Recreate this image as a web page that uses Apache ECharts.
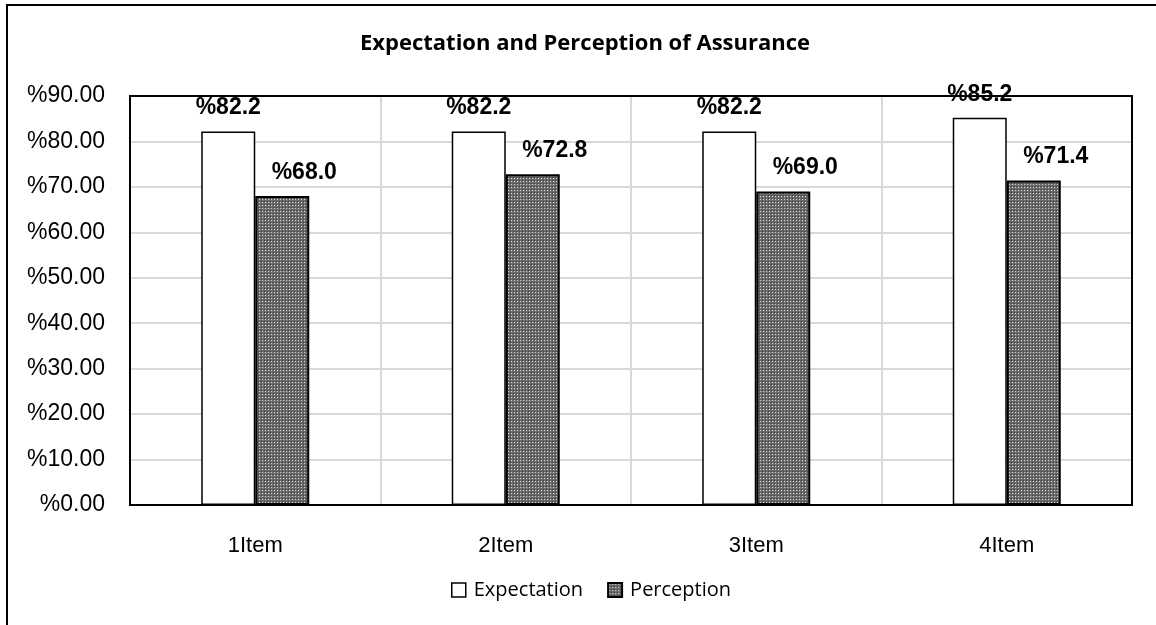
<!DOCTYPE html>
<html><head><meta charset="utf-8">
<script src="https://cdn.jsdelivr.net/npm/echarts@6/dist/echarts.min.js"></script>
<style>html,body{margin:0;padding:0;background:#fff}#c{width:1156px;height:625px}</style>
</head><body><div id="c"></div>
<script>
var categories = ['1Item', '2Item', '3Item', '4Item'];
var expectation = [82.2, 82.2, 82.2, 85.2];
var perception = [68.0, 72.8, 69.0, 71.4];
var yTicks = [0, 10, 20, 30, 40, 50, 60, 70, 80, 90];

var pc = document.createElement('canvas');
pc.width = 3; pc.height = 3;
var g = pc.getContext('2d');
g.fillStyle = '#6a6a6a'; g.fillRect(0, 0, 3, 3);
g.fillStyle = '#d8d8d8'; g.fillRect(1, 1, 1, 1);
g.fillStyle = '#3c3c3c'; g.fillRect(0, 0, 1, 1);
var pattern = {image: pc, repeat: 'repeat'};

function labelStyle(dx) {
  return {show: true, position: 'top', distance: 12, offset: [dx, 0], fontFamily: 'Liberation Sans, Arial', fontWeight: 'bold', fontSize: 23, color: '#000',
    formatter: function (p) { return '%' + p.value.toFixed(1); }};
}
var chart = echarts.init(document.getElementById('c'));
chart.setOption({
  animation: false,
  title: {text: 'Expectation and Perception of Assurance', left: 580, top: 28, textAlign: 'center',
    textStyle: {fontFamily: 'Open Sans', fontWeight: 'bold', fontSize: 22, color: '#000'}},
  grid: {left: 130, right: 24, top: 96, bottom: 120, containLabel: false},
  legend: {top: 575, left: 446, itemWidth: 14, itemHeight: 14, itemGap: 24, icon: 'rect',
    textStyle: {fontFamily: 'Open Sans', fontSize: 20, color: '#000', padding: [0, 0, 0, 3]},
    data: [{name: 'Expectation', itemStyle: {color: '#fff', borderColor: '#000', borderWidth: 1.5}},
           {name: 'Perception', itemStyle: {color: pattern, borderColor: '#000', borderWidth: 2}}]},
  xAxis: {type: 'category', data: categories,
    axisLine: {show: true, lineStyle: {color: '#000', width: 2}},
    axisTick: {show: false},
    splitLine: {show: true, lineStyle: {color: '#d9d9d9', width: 2}},
    axisLabel: {fontFamily: 'Liberation Sans, Arial', fontSize: 22, color: '#000', margin: 30}},
  yAxis: {type: 'value', min: 0, max: 90, interval: 10,
    axisLine: {show: true, lineStyle: {color: '#000', width: 2}},
    axisTick: {show: false},
    splitLine: {show: true, lineStyle: {color: '#d9d9d9', width: 2}},
    axisLabel: {fontFamily: 'Liberation Sans, Arial', fontSize: 23, color: '#000', margin: 25,
      formatter: function (v) { return yTicks.indexOf(v) >= 0 ? '%' + v.toFixed(2) : ''; }}},
  series: [
    {name: 'Expectation', type: 'bar', data: expectation, barWidth: 54, barGap: '0%',
      itemStyle: {color: '#fff', borderColor: '#000', borderWidth: 1.5}, label: labelStyle(0)},
    {name: 'Perception', type: 'bar', data: perception, barWidth: 54,
      itemStyle: {color: pattern, borderColor: '#000', borderWidth: 2}, label: labelStyle(22)}
  ]
});
var rect = chart.getModel().getComponent('grid').coordinateSystem.getRect();
chart.setOption({graphic: [
  {type: 'rect', shape: {x: 7, y: 5, width: 1200, height: 700}, style: {fill: 'none', stroke: '#000', lineWidth: 2}, z: -1},
  {type: 'rect', shape: {x: rect.x, y: rect.y, width: rect.width, height: rect.height}, style: {fill: 'none', stroke: '#000', lineWidth: 2}, z: 5}]});
</script></body></html>
